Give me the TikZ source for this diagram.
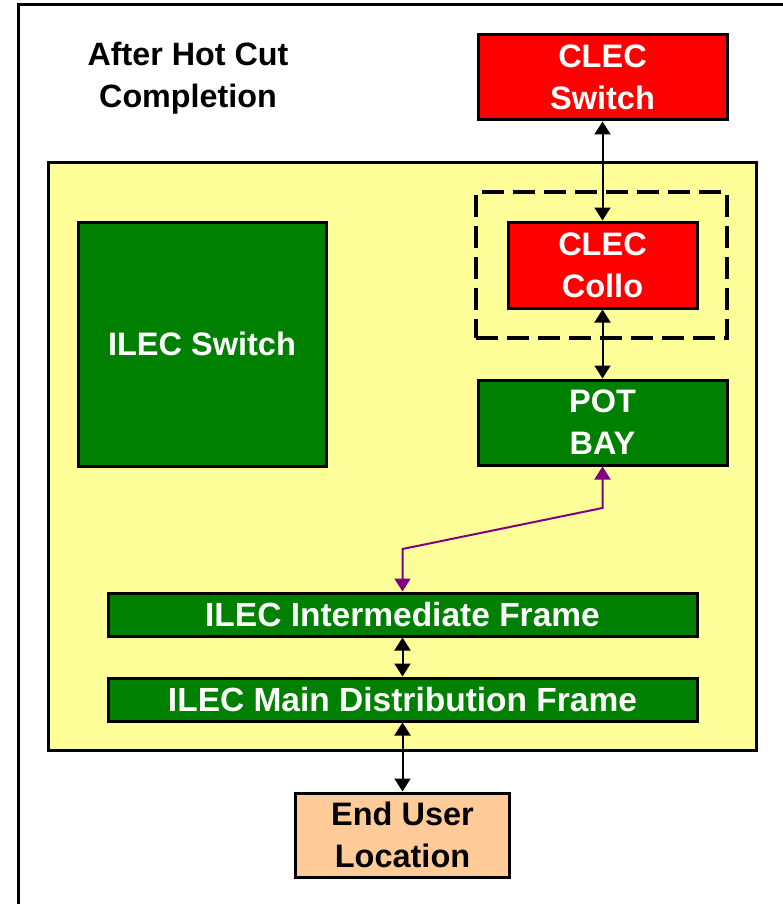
\documentclass[tikz,border=0pt]{standalone}
\usepackage{fontspec}
\setmainfont{Liberation Sans}
\usetikzlibrary{arrows.meta}
\definecolor{ylw}{RGB}{255,255,153}
\definecolor{grn}{RGB}{0,128,0}
\definecolor{rd}{RGB}{255,0,0}
\definecolor{peach}{RGB}{255,204,153}
\definecolor{purp}{RGB}{128,0,128}
\tikzset{
  box/.style={draw=black, line width=3pt, rectangle, inner sep=0pt, align=center,
    font=\fontsize{32.5}{42}\selectfont\bfseries, text=white},
  gbox/.style={box, fill=grn},
  rbox/.style={box, fill=rd},
  framebox/.style={gbox, font=\fontsize{33.5}{42}\selectfont\bfseries},
  biarrow/.style={line width=2pt, {Triangle[length=13pt,width=16pt]}-{Triangle[length=13pt,width=16pt]}},
  parrow/.style={draw=purp, line width=2pt, {Triangle[length=13pt,width=16pt]}-{Triangle[length=13pt,width=16pt]}},
}
\begin{document}
\begin{tikzpicture}[x=1pt,y=-1pt]
\useasboundingbox (0,0) rectangle (783,904);
% outer frame
\draw[line width=3pt] (790,5) -- (18,5) -- (18,910);
% title
\node[align=center, font=\fontsize{32.3}{42}\selectfont\bfseries] (title) at (188,78) {After Hot Cut\\Completion};
% yellow area
\node[draw=black, line width=3pt, fill=ylw, rectangle, inner sep=0pt, minimum width=708pt, minimum height=587pt] (office) at (402,456.5) {};
% dashed collocation frame
\node[draw=black, line width=4pt, dash pattern=on 22pt off 9pt, rectangle, inner sep=0pt, minimum width=251pt, minimum height=146pt] (colloframe) at (601.5,265) {};
% boxes
\node[rbox, minimum width=249pt, minimum height=85pt] (clecsw) at (602.5,77.5) {CLEC\\Switch};
\node[rbox, minimum width=189pt, minimum height=86pt] (collo) at (602.5,265) {CLEC\\Collo};
\node[gbox, minimum width=249pt, minimum height=85pt] (potbay) at (602.5,422.5) {POT\\BAY};
\node[gbox, minimum width=248pt, minimum height=244pt] (ilecsw) at (202,344) {ILEC Switch};
\node[framebox, minimum width=589pt, minimum height=43pt] (ifr) at (402.5,614.5) {ILEC Intermediate Frame};
\node[framebox, minimum width=589pt, minimum height=43pt] (mdf) at (402.5,699.5) {ILEC Main Distribution Frame};
\node[box, fill=peach, text=black, minimum width=214pt, minimum height=84pt] (enduser) at (402.5,835) {End User\\Location};
% connectors
\draw[biarrow] (clecsw.south) -- (collo.north);
\draw[biarrow] (collo.south) -- (potbay.north);
\coordinate (p1) at (602.5,508);
\coordinate (p2) at (402.5,549);
\draw[parrow] (potbay.south) -- (p1) -- (p2) -- (ifr.north);
\draw[biarrow] (ifr.south) -- (mdf.north);
\draw[biarrow] (mdf.south) -- (enduser.north);
\end{tikzpicture}
\end{document}
